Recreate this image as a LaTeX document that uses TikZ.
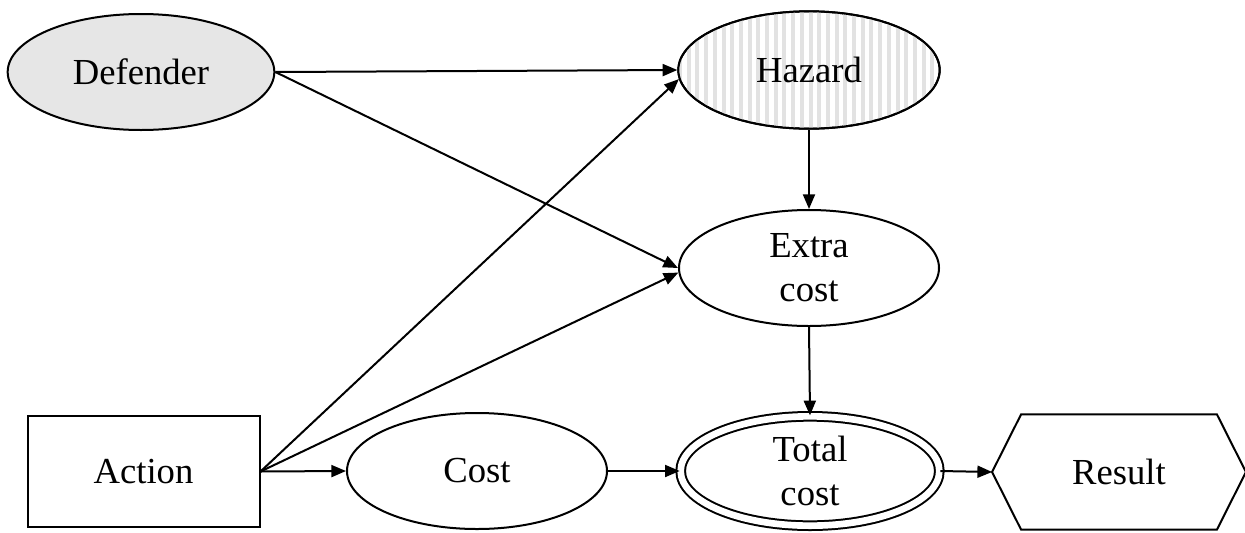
\documentclass[tikz,border=0pt]{standalone}
\usepackage{fontspec}
\setmainfont{Liberation Serif}
\usetikzlibrary{shapes.geometric,arrows.meta}
\definecolor{defgray}{HTML}{E6E6E6}
\definecolor{stripegray}{HTML}{E2E2E2}
\tikzset{
  px/.style={x=0.75pt,y=-0.75pt},
  lbl/.style={font=\fontsize{27.5}{33}\selectfont, align=center, text=black},
  ell/.style={ellipse, draw=black, line width=1.5pt, inner sep=0pt, lbl},
  conn/.style={line width=1.5pt, -{Triangle[length=11pt,width=9pt]}},
}
\begin{document}
\begin{tikzpicture}[px]
\useasboundingbox (0,0) rectangle (1245,532);
% nodes
\node[ell, fill=defgray, minimum width=200pt, minimum height=87pt] (def) at (141,72) {Defender};
\node[ell, minimum width=196pt, minimum height=88pt] (haz) at (809,70) {};
\begin{scope}
  \clip (809,70) ellipse [x radius=131, y radius=59];
  \foreach \i in {0,...,32} {
    \fill[stripegray] ({678+\i*8.7},0) rectangle ({682+\i*8.7},140);
  }
\end{scope}
\node[ell, minimum width=196pt, minimum height=88pt] at (809,70) {Hazard};
\node[ell, minimum width=195pt, minimum height=87pt] (ext) at (809,268) {Extra\\cost};
\node[ell, minimum width=195pt, minimum height=87pt] (cost) at (477,471) {Cost};
\node[ell, double=white, double distance=5pt, minimum width=194pt, minimum height=82pt] (tot) at (810,471) {Total\\cost};
\node[draw=black, line width=1.5pt, lbl, minimum width=174pt, minimum height=83pt, inner sep=0pt] (act) at (143.5,471.5) {Action};
\node[lbl, minimum width=190pt, minimum height=86pt, inner sep=0pt] (res) at (1119,472) {Result};
\draw[line width=1.5pt, line join=miter] (res.west) -- ([xshift=29*0.75pt]res.north west) -- ([xshift=-29*0.75pt]res.north east) -- (res.east) -- ([xshift=-29*0.75pt]res.south east) -- ([xshift=29*0.75pt]res.south west) -- cycle;
% connectors
\draw[conn] (def.east) -- (haz.west);
\draw[conn] (def.east) -- (ext.west);
\draw[conn] (act.east) -- (haz.184);
\draw[conn] (act.east) -- (ext.182);
\draw[conn] (act.east) -- (cost.west);
\draw[conn] (haz.south) -- (ext.north);
\draw[conn] (ext.south) -- (tot.north);
\draw[conn] (cost.east) -- (tot.west);
\draw[conn] (tot.east) -- (res.west);
\end{tikzpicture}
\end{document}
